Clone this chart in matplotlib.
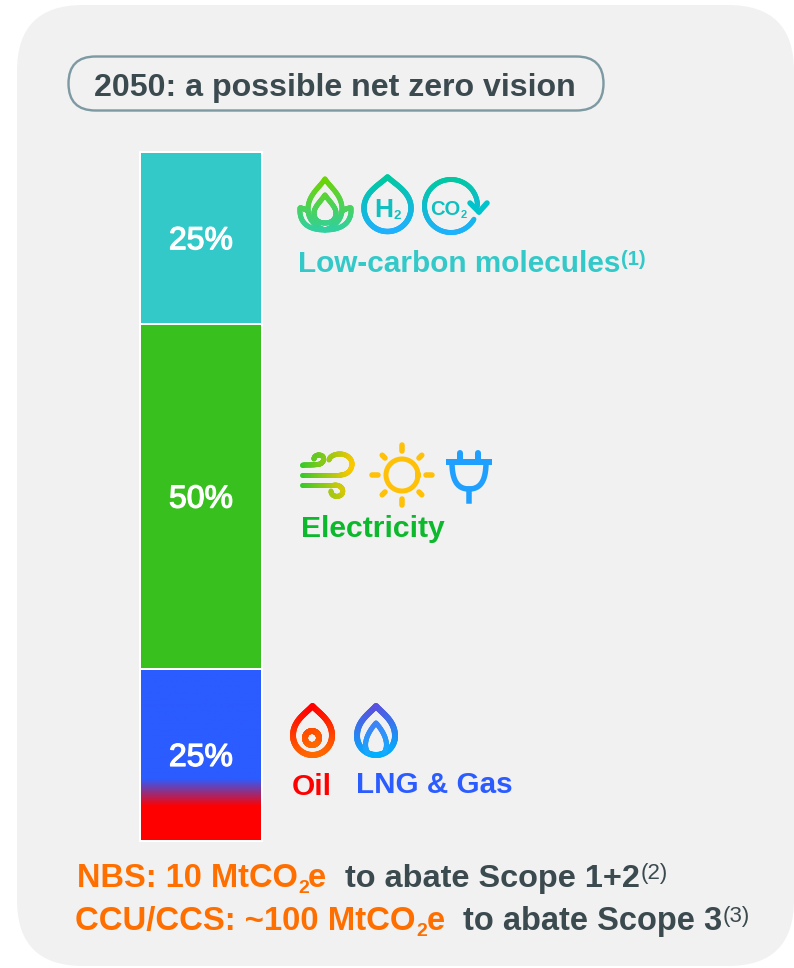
import numpy as np
import matplotlib.pyplot as plt
import matplotlib.patheffects as pe
from matplotlib.patches import FancyBboxPatch, Rectangle
from matplotlib.collections import LineCollection
from matplotlib.colors import LinearSegmentedColormap, to_rgb

plt.rcParams['font.family'] = ['Liberation Sans', 'DejaVu Sans']

# bar values, bottom to top
labels = ['Oil & Gas', 'Electricity', 'Low-carbon molecules']
shares = [25, 50, 25]
share_labels = ['25%', '50%', '25%']
bar_colours = ['#2b5cff', '#38c01f', '#33c9c9']

title = '2050: a possible net zero vision'
DARK = '#3b4a4f'
ORANGE = '#ff6f00'

W, H = 794, 968
fig = plt.figure(figsize=(W / 100, H / 100), dpi=100, facecolor='white')

# overlay in pixel coordinates for the panel, icons and captions
ov = fig.add_axes([0, 0, 1, 1])
ov.set_xlim(0, W)
ov.set_ylim(H, 0)
ov.axis('off')


def px(v):
    return v * 72 / 100


def curve(*verts):
    # chain of cubic beziers, sampled into a polyline
    v = np.array(verts, dtype=float)
    t = np.linspace(0, 1, 30)[:, None]
    out = []
    for i in range(0, len(v) - 1, 3):
        a, b, c, d = v[i:i + 4]
        out.append((1 - t) ** 3 * a + 3 * (1 - t) ** 2 * t * b + 3 * (1 - t) * t ** 2 * c + t ** 3 * d)
    return np.vstack(out)


def grad_line(pts, c1, c2, lw, axis=1, lo=None, hi=None, cap='round'):
    # stroke a polyline with a colour gradient along x or y
    pts = np.asarray(pts, dtype=float)
    lo = pts[:, axis].min() if lo is None else lo
    hi = pts[:, axis].max() if hi is None else hi
    mid = (pts[:-1] + pts[1:]) / 2
    t = np.clip((mid[:, axis] - lo) / (hi - lo), 0, 1)[:, None]
    cols = (1 - t) * np.array(to_rgb(c1)) + t * np.array(to_rgb(c2))
    segs = np.stack([pts[:-1], pts[1:]], axis=1)
    ov.add_collection(LineCollection(segs, colors=cols, linewidths=px(lw), capstyle=cap, zorder=3))


def drop(cx, top, bottom, r):
    cy = bottom - r
    h = cy - top
    return curve((cx, top),
                 (cx + 0.35 * r, top + 0.25 * h), (cx + r, top + 0.5 * h), (cx + r, cy),
                 (cx + r, cy + 0.55 * r), (cx + 0.55 * r, bottom), (cx, bottom),
                 (cx - 0.55 * r, bottom), (cx - r, cy + 0.55 * r), (cx - r, cy),
                 (cx - r, top + 0.5 * h), (cx - 0.35 * r, top + 0.25 * h), (cx, top))


def arc(cx, cy, r, a0, a1, n=120):
    a = np.radians(np.linspace(a0, a1, n))
    return np.column_stack([cx + r * np.cos(a), cy + r * np.sin(a)])


# panel and title pill
ov.add_patch(FancyBboxPatch((17, 5), 777, 961, boxstyle='round,pad=0,rounding_size=66',
                            fc='#f1f1f1', ec='none', zorder=0))
ov.add_patch(FancyBboxPatch((68.5, 56.5), 535, 54, boxstyle='round,pad=0,rounding_size=27',
                            fc='none', ec='#7d9aa3', lw=px(2.4), zorder=1))
ov.text(335, 96, title, fontsize=23.1, fontweight='bold', color=DARK, ha='center', va='baseline')

# stacked bar in its own axes, 0-100 scale
ax = fig.add_axes([140 / W, (H - 841) / H, 122 / W, 689 / H])
ax.axis('off')
ax.patch.set_alpha(0)
bottom = 0
for val, col, lab in zip(shares, bar_colours, share_labels):
    ax.bar(0, val, width=1, bottom=bottom, color=col, edgecolor='white', linewidth=px(2), clip_on=False)
    ax.text(0, bottom + val / 2 - 0.45, lab, color='white', fontsize=23, ha='center', va='center', zorder=5,
            path_effects=[pe.withStroke(linewidth=0.9, foreground='white')])
    bottom += val

# the oil/gas segment fades from red to blue
cmap = LinearSegmentedColormap.from_list('oilgas', [(0, '#ff0000'), (0.2, '#ff0000'),
                                                   (0.36, '#2b5cff'), (1, '#2b5cff')])
ax.imshow(np.linspace(0, 1, 256)[:, None], origin='lower', cmap=cmap, aspect='auto',
          extent=[-0.5, 0.5, 0, shares[0]], zorder=2)
ax.set_xlim(-0.5, 0.5)
ax.set_ylim(0, 100)
ax.add_patch(Rectangle((-0.5, 0), 1, shares[0], fc='none', ec='white', lw=px(2), zorder=3, clip_on=False))

# lotus
g1, g2 = '#6fd400', '#2fd0a5'
lotus = [
    curve((325, 179), (330, 187), (342, 195), (342, 209), (342, 220), (334, 227), (325, 230),
          (316, 227), (308, 220), (308, 209), (308, 195), (320, 187), (325, 179)),
    curve((325, 195), (329, 201), (336, 207), (336, 213), (336, 220), (331, 223), (325, 223),
          (319, 223), (314, 220), (314, 213), (314, 207), (321, 201), (325, 195)),
    curve((308, 211), (305, 209), (302, 208), (300, 208), (299, 221), (306, 230), (325, 230)),
    curve((342, 211), (345, 209), (348, 208), (351, 208), (352, 221), (344, 230), (325, 230)),
]
for pts in lotus:
    grad_line(pts, g1, g2, 5, lo=178, hi=232)

# hydrogen drop
grad_line(drop(387.5, 177, 231.5, 23.5), '#00c9a0', '#1fb0ff', 5.5)
ov.text(384, 217, 'H', fontsize=19, fontweight='bold', color='#10bfc0', ha='center', va='baseline')
ov.text(397, 219, '2', fontsize=9.5, fontweight='bold', color='#10bfc0', ha='center', va='baseline')

# co2 ring with arrow
grad_line(arc(451, 206, 26.5, 30, 360), '#1fb0ff', '#00c9a0', 5, lo=234, hi=178)
grad_line([(470, 203), (479, 212), (487, 203)], '#00c4cc', '#00c4cc', 5.5)
ov.text(445, 215, 'CO', fontsize=14.5, fontweight='bold', color='#10bfc0', ha='center', va='baseline')
ov.text(464, 218, '2', fontsize=8, fontweight='bold', color='#10bfc0', ha='center', va='baseline')

# wind
w1, w2 = '#2cc92c', '#ffc800'
wind = [
    curve((302, 465), (310, 465), (316, 465), (320, 464), (325, 462), (325, 455), (319, 455),
          (316, 455), (314, 457), (314, 459)),
    curve((302, 475), (315, 475), (330, 475), (340, 475), (349, 475), (352, 468), (352, 464),
          (352, 458), (346, 454), (340, 454), (335, 454), (330, 456), (329, 460)),
    curve((302, 485), (312, 485), (325, 485), (334, 485), (342, 485), (344, 490), (342, 494),
          (339, 498), (331, 497), (331, 491)),
]
for pts in wind:
    grad_line(pts, w1, w2, 5, axis=0, lo=301, hi=353)

# sun
sun_c = '#ffc107'
ov.plot(*arc(402, 475, 16, 0, 360).T, color=sun_c, lw=px(5), zorder=3)
for a in np.arange(0, 360, 45):
    p = np.array([np.cos(np.radians(a)), np.sin(np.radians(a))])
    r0, r1 = (24, 28) if a % 90 else (24, 30)
    ov.plot([402 + r0 * p[0], 402 + r1 * p[0]], [475 + r0 * p[1], 475 + r1 * p[1]],
            color=sun_c, lw=px(5.5), solid_capstyle='round', zorder=3)

# plug
plug_c = '#1fa0ff'
ov.plot([460, 460], [453, 461], color=plug_c, lw=px(6), solid_capstyle='round', zorder=3)
ov.plot([478, 478], [453, 461], color=plug_c, lw=px(6), solid_capstyle='round', zorder=3)
ov.plot([449, 489], [462, 462], color=plug_c, lw=px(6), zorder=3)
ov.plot(*curve((452, 462), (452, 480), (457, 489), (469, 489), (481, 489), (486, 480), (486, 462)).T,
        color=plug_c, lw=px(5.5), zorder=3)
ov.plot([469, 469], [489, 501], color=plug_c, lw=px(5.5), zorder=3)

# oil drop
grad_line(drop(312.5, 706, 755, 19.5), '#ff0000', '#ff6a00', 6)
grad_line(arc(312, 738, 7, 0, 360), '#ff4a00', '#ff6a00', 6, lo=730, hi=746)

# gas flame
grad_line(drop(376, 706, 755, 19), '#5a50e0', '#00b0ff', 6)
flame = curve((368, 753), (362, 744), (368, 732), (376, 723), (384, 732), (390, 744), (384, 753))
grad_line(flame, '#5a6af0', '#10b0ff', 5, lo=705, hi=757)

# captions next to the bar
CAP = dict(fontweight='bold', va='baseline')
SUP = dict(fontweight='normal', va='baseline')
ov.text(298, 272, 'Low-carbon molecules', fontsize=21.4, color='#33c9c9', **CAP)
ov.text(621, 265, '(1)', fontsize=14.5, color='#33c9c9', **CAP)
ov.text(301, 537, 'Electricity', fontsize=21.7, color='#0cb82c', **CAP)
ov.text(292, 795, 'Oil', fontsize=21.5, color='#ff0000', **CAP)
ov.text(356, 793, 'LNG & Gas', fontsize=21.3, color='#2b5cff', **CAP)

# abatement lines, pieces placed one after another
ov.text(77, 887, 'NBS: 10 MtCO', fontsize=23.5, color=ORANGE, **CAP)
ov.text(298, 893, '2', fontsize=14, color=ORANGE, **CAP)
ov.text(308, 887, 'e', fontsize=23.5, color=ORANGE, **CAP)
ov.text(345, 887, 'to abate Scope 1+2', fontsize=23.4, color=DARK, **CAP)
ov.text(641, 879, '(2)', fontsize=16, color=DARK, **SUP)
ov.text(75, 930, 'CCU/CCS: ~100 MtCO', fontsize=23.7, color=ORANGE, **CAP)
ov.text(416, 936, '2', fontsize=14, color=ORANGE, **CAP)
ov.text(427, 930, 'e', fontsize=23.5, color=ORANGE, **CAP)
ov.text(463, 930, 'to abate Scope 3', fontsize=23.5, color=DARK, **CAP)
ov.text(723, 922, '(3)', fontsize=16, color=DARK, **SUP)

fig.savefig('out.png', dpi=100)
